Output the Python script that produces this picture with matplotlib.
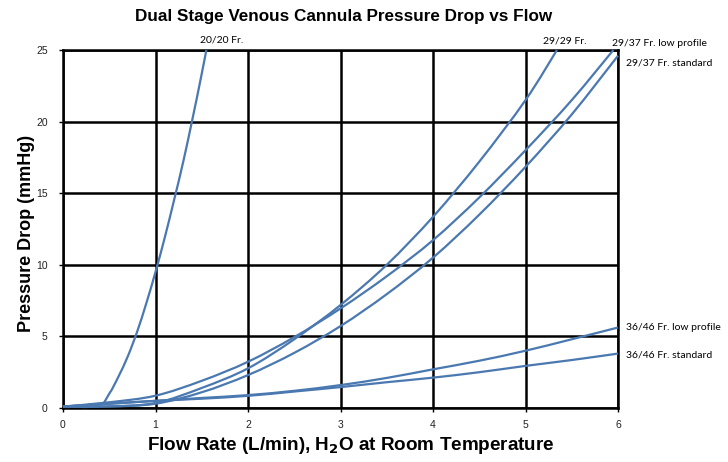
import matplotlib
matplotlib.use("Agg")
import matplotlib.pyplot as plt
import numpy as np
from matplotlib.path import Path
from matplotlib.patches import PathPatch

#### Dados ####
x_2020 = [0, 0.38, 0.5, 0.6, 0.7, 0.8, 0.9, 1.0, 1.1, 1.2, 1.3, 1.4, 1.48, 1.55]
y_2020 = [0.1, 0.15, 1.0, 2.2, 3.6, 5.3, 7.3, 9.5, 11.9, 14.5, 17.2, 20.2, 22.7, 25]

x_2929 = [0, 0.5, 1, 1.5, 2, 2.5, 3, 3.5, 4, 4.5, 5, 5.34]
y_2929 = [0.1, 0.12, 0.35, 1.4, 2.77, 4.8, 7.19, 10.0, 13.35, 17.2, 21.5, 25]

x_2937_low = [0, 0.5, 1, 1.5, 2, 2.5, 3, 3.5, 4, 4.5, 5, 5.5, 5.95]
y_2937_low = [0.1, 0.4, 0.86, 1.9, 3.23, 4.95, 6.95, 9.2, 11.72, 14.7, 18.0, 21.5, 25]

x_2937_std = [0, 0.5, 1, 1.5, 2, 2.5, 3, 3.5, 4, 4.5, 5, 5.5, 6]
y_2937_std = [0.1, 0.1, 0.3, 1.1, 2.3, 3.85, 5.72, 7.95, 10.5, 13.5, 16.84, 20.5, 24.6]

x_3646 = [0, 0.5, 1, 1.5, 2, 2.5, 3, 3.5, 4, 4.5, 5, 5.5, 6]
y_3646_low = [0.1, 0.3, 0.5, 0.7, 0.9, 1.2, 1.6, 2.1, 2.7, 3.3, 4.0, 4.8, 5.62]
y_3646_std = [0.1, 0.3, 0.5, 0.65, 0.85, 1.15, 1.46, 1.8, 2.12, 2.5, 2.94, 3.35, 3.8]

cor = "#4a78b0"


#### Linha suavizada (estilo Excel): Catmull-Rom -> Bezier ####
def linha_suave(ax, xs, ys):
    p = np.column_stack([xs, ys]).astype(float)
    verts = [p[0]]
    codes = [Path.MOVETO]
    for i in range(len(p) - 1):
        p0 = p[i - 1] if i > 0 else p[i]
        p3 = p[i + 2] if i + 2 < len(p) else p[i + 1]
        c1 = p[i] + (p[i + 1] - p0) / 6
        c2 = p[i + 1] - (p3 - p[i]) / 6
        verts += [c1, c2, p[i + 1]]
        codes += [Path.CURVE4] * 3
    ax.add_patch(PathPatch(Path(verts, codes), fill=False, edgecolor=cor,
                           lw=1.6, clip_on=False, zorder=3))


fig = plt.figure(figsize=(7.28, 4.62), dpi=100)
ax = fig.add_axes([63 / 728, 1 - 408 / 462, 555 / 728, 358 / 462])

for xs, ys in [(x_2020, y_2020), (x_2929, y_2929), (x_2937_low, y_2937_low),
               (x_2937_std, y_2937_std), (x_3646, y_3646_low), (x_3646, y_3646_std)]:
    linha_suave(ax, xs, ys)

ax.set_xlim(0, 6)
ax.set_ylim(0, 25)
ax.set_xticks(range(0, 7))
ax.set_yticks(range(0, 26, 5))
ax.grid(True, color="black", lw=1.8)
ax.set_axisbelow(True)
for s in ax.spines.values():
    s.set_linewidth(1.8)
ax.tick_params(length=3, width=1, labelsize=7.5, colors="black", labelcolor="#222222")
ax.tick_params(axis="x", pad=6)
ax.tick_params(axis="y", pad=8)
for lab in ax.get_xticklabels() + ax.get_yticklabels():
    lab.set_family("Liberation Sans")

#### Títulos ####
fig.text(344 / 728, 1 - 17 / 462, "Dual Stage Venous Cannula Pressure Drop vs Flow",
         ha="center", va="center", fontsize=12.3, fontweight="bold", family="Liberation Sans")
fig.text(351 / 728, 1 - 446 / 462, "Flow Rate (L/min), H$_\\mathbf{2}$O at Room Temperature",
         ha="center", va="center", fontsize=13.6, fontweight="bold", family="Liberation Sans")
fig.text(27 / 728, 1 - 233 / 462, "Pressure Drop (mmHg)", rotation=90,
         ha="center", va="center", fontsize=13, fontweight="bold", family="Liberation Sans")

#### Rótulos das curvas ####
rotulos = [
    (222, 40, "20/20 Fr.", "center"),
    (565, 41, "29/29 Fr.", "center"),
    (612, 43, "29/37 Fr. low profile", "left"),
    (626, 63, "29/37 Fr. standard", "left"),
    (626, 328, "36/46 Fr. low profile", "left"),
    (626, 355, "36/46 Fr. standard", "left"),
]
for px, py, txt, ha in rotulos:
    fig.text(px / 728, 1 - py / 462, txt, ha=ha, va="center", fontsize=7.5, family="Lato")

fig.savefig("out.png", dpi=100)
